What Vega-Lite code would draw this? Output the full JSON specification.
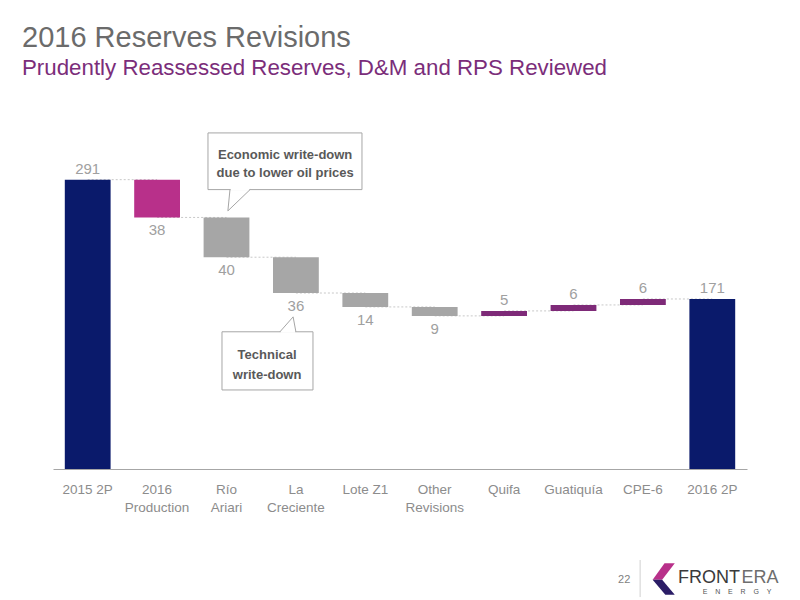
{
  "$schema": "https://vega.github.io/schema/vega-lite/v6.json",
  "width": 694,
  "height": 348,
  "autosize": "none",
  "padding": {"left": 53, "top": 121, "right": 53, "bottom": 131},
  "background": "white",
  "config": {"view": {"stroke": null}},
  "title": {
    "text": "2016 Reserves Revisions",
    "subtitle": "Prudently Reassessed Reserves, D&M and RPS Reviewed",
    "anchor": "start",
    "frame": "group",
    "dx": -31,
    "offset": 42,
    "font": "Liberation Sans",
    "fontSize": 29,
    "fontWeight": "normal",
    "color": "#6b6b6b",
    "subtitleFont": "Liberation Sans",
    "subtitleFontSize": 22.3,
    "subtitleColor": "#7b2d7a",
    "subtitlePadding": 4
  },
  "datasets": {
    "bars": [
      {"cat": "2015 2P", "next": "2016 Production", "start": 0, "end": 291, "label": "291", "type": "total", "pos": "above"},
      {"cat": "2016 Production", "next": "Río Ariari", "start": 291, "end": 253, "label": "38", "type": "production", "pos": "below"},
      {"cat": "Río Ariari", "next": "La Creciente", "start": 253, "end": 213, "label": "40", "type": "decrease", "pos": "below"},
      {"cat": "La Creciente", "next": "Lote Z1", "start": 213, "end": 177, "label": "36", "type": "decrease", "pos": "below"},
      {"cat": "Lote Z1", "next": "Other Revisions", "start": 177, "end": 163, "label": "14", "type": "decrease", "pos": "below"},
      {"cat": "Other Revisions", "next": "Quifa", "start": 163, "end": 154, "label": "9", "type": "decrease", "pos": "below"},
      {"cat": "Quifa", "next": "Guatiquía", "start": 154, "end": 159, "label": "5", "type": "increase", "pos": "above"},
      {"cat": "Guatiquía", "next": "CPE-6", "start": 159, "end": 165, "label": "6", "type": "increase", "pos": "above"},
      {"cat": "CPE-6", "next": "2016 2P", "start": 165, "end": 171, "label": "6", "type": "increase", "pos": "above"},
      {"cat": "2016 2P", "next": null, "start": 0, "end": 171, "label": "171", "type": "total", "pos": "above"}
    ],
    "boxes": [
      {"name": "economic", "x1": 1.733, "x2": 3.952, "y1": 281, "y2": 338},
      {"name": "technical", "x1": 1.935, "x2": 3.246, "y1": 79.5, "y2": 138}
    ],
    "tails": [
      {"name": "economic", "ord": 1, "cx": 2.05, "cy": 281},
      {"name": "economic", "ord": 2, "cx": 2.02, "cy": 259.6},
      {"name": "economic", "ord": 3, "cx": 2.34, "cy": 281},
      {"name": "technical", "ord": 1, "cx": 2.77, "cy": 138},
      {"name": "technical", "ord": 2, "cx": 2.96, "cy": 153},
      {"name": "technical", "ord": 3, "cx": 3.0, "cy": 138}
    ],
    "gaps": [
      {"name": "economic", "xa": 2.06, "xb": 2.33, "cy": 281},
      {"name": "technical", "xa": 2.78, "xb": 2.99, "cy": 138}
    ],
    "notes": [
      {"cx": 2.845, "cy": 316, "text": "Economic write-down"},
      {"cx": 2.845, "cy": 298, "text": "due to lower oil prices"},
      {"cx": 2.585, "cy": 115, "text": "Technical"},
      {"cx": 2.585, "cy": 95, "text": "write-down"}
    ],
    "page": [{"cx": 7.73, "cy": -114.5, "text": "22"}],
    "brandDark": [{"cx": 8.506, "cy": -114.5, "text": "FRONT"}],
    "brandLight": [{"cx": 9.42, "cy": -114.5, "text": "ERA"}],
    "brandSub": [{"cx": 9.357, "cy": -125.7, "text": "E\u00a0\u00a0\u00a0\u00a0N\u00a0\u00a0\u00a0\u00a0E\u00a0\u00a0\u00a0\u00a0R\u00a0\u00a0\u00a0\u00a0G\u00a0\u00a0\u00a0\u00a0Y"}],
    "divider": [{"cx": 7.96, "ya": -91.5, "yb": -128.8}],
    "icon": [{"cx": 8.3, "cy": -110.6}]
  },
  "resolve": {"scale": {"x": "independent"}, "axis": {"x": "independent"}},
  "encoding": {
    "y": {"type": "quantitative", "scale": {"domain": [0, 350], "nice": false, "zero": true}, "axis": null}
  },
  "layer": [
    {
      "layer": [
        {
          "data": {"name": "bars"},
          "mark": {"type": "rule", "color": "#c8c8c8", "strokeDash": [2, 2], "strokeWidth": 1},
          "transform": [{"filter": "datum.next != null"}],
          "encoding": {
            "x": {"field": "cat", "type": "nominal"},
            "x2": {"field": "next"},
            "y": {"field": "end", "type": "quantitative"}
          }
        },
        {
          "data": {"name": "bars"},
          "mark": {"type": "bar"},
          "encoding": {
            "x": {"field": "cat", "type": "nominal"},
            "y": {"field": "start", "type": "quantitative"},
            "y2": {"field": "end"},
            "color": {
              "field": "type",
              "type": "nominal",
              "legend": null,
              "scale": {
                "domain": ["total", "production", "decrease", "increase"],
                "range": ["#0a1a6b", "#b8308a", "#a6a6a6", "#7e2a78"]
              }
            }
          }
        },
        {
          "data": {"name": "bars"},
          "transform": [{"filter": "datum.pos == 'above'"}],
          "mark": {"type": "text", "baseline": "alphabetic", "dy": -6, "font": "Liberation Sans", "fontSize": 15, "color": "#a0a0a0"},
          "encoding": {
            "x": {"field": "cat", "type": "nominal"},
            "y": {"field": "end", "type": "quantitative"},
            "text": {"field": "label"}
          }
        },
        {
          "data": {"name": "bars"},
          "transform": [{"filter": "datum.pos == 'below'"}],
          "mark": {"type": "text", "baseline": "top", "dy": 6, "font": "Liberation Sans", "fontSize": 15, "color": "#a0a0a0"},
          "encoding": {
            "x": {"field": "cat", "type": "nominal"},
            "y": {"field": "end", "type": "quantitative"},
            "text": {"field": "label"}
          }
        }
      ],
      "encoding": {
        "x": {
          "field": "cat",
          "type": "nominal",
          "sort": null,
          "title": null,
          "scale": {"paddingInner": 0.34, "paddingOuter": 0.17},
          "axis": {
            "labelAngle": 0,
            "ticks": false,
            "domainColor": "#a6a6a6",
            "domainWidth": 1,
            "labelPadding": 13,
            "labelFont": "Liberation Sans",
            "labelFontSize": 13.5,
            "labelColor": "#8c8c8c",
            "labelLineHeight": 18,
            "labelBaseline": "top",
            "labelExpr": "test(/ 2P$| Z1$/, datum.label) ? datum.label : split(datum.label, ' ')"
          }
        }
      }
    },
    {
      "layer": [
        {
          "data": {"name": "boxes"},
          "mark": {"type": "rect", "fill": "white", "stroke": "#a6a6a6", "strokeWidth": 1},
          "encoding": {
            "x": {"field": "x1", "type": "quantitative"},
            "x2": {"field": "x2"},
            "y": {"field": "y1", "type": "quantitative"},
            "y2": {"field": "y2"}
          }
        },
        {
          "data": {"name": "gaps"},
          "mark": {"type": "rule", "color": "white", "strokeWidth": 2},
          "encoding": {
            "x": {"field": "xa", "type": "quantitative"},
            "x2": {"field": "xb"},
            "y": {"field": "cy", "type": "quantitative"}
          }
        },
        {
          "data": {"name": "tails"},
          "mark": {"type": "line", "color": "#a6a6a6", "strokeWidth": 1},
          "encoding": {
            "x": {"field": "cx", "type": "quantitative"},
            "y": {"field": "cy", "type": "quantitative"},
            "detail": {"field": "name"},
            "order": {"field": "ord"}
          }
        },
        {
          "data": {"name": "notes"},
          "mark": {"type": "text", "font": "Liberation Sans", "fontSize": 13, "fontWeight": "bold", "color": "#595959", "baseline": "middle"},
          "encoding": {
            "x": {"field": "cx", "type": "quantitative"},
            "y": {"field": "cy", "type": "quantitative"},
            "text": {"field": "text"}
          }
        },
        {
          "data": {"name": "divider"},
          "mark": {"type": "rule", "color": "#d0d0d0", "strokeWidth": 1},
          "encoding": {
            "x": {"field": "cx", "type": "quantitative"},
            "y": {"field": "ya", "type": "quantitative"},
            "y2": {"field": "yb"}
          }
        },
        {
          "data": {"name": "icon"},
          "mark": {"type": "point", "filled": true, "opacity": 1, "size": 1000, "color": "#b8308a", "shape": "M 0.05 -1 L 0.7 -1 L -0.1 0.05 L -0.7 0.05 Z"},
          "encoding": {
            "x": {"field": "cx", "type": "quantitative"},
            "y": {"field": "cy", "type": "quantitative"}
          }
        },
        {
          "data": {"name": "icon"},
          "mark": {"type": "point", "filled": true, "opacity": 1, "size": 1000, "color": "#2b1d66", "shape": "M -0.7 0.05 L -0.1 0.05 L 0.7 1 L 0.1 1 Z"},
          "encoding": {
            "x": {"field": "cx", "type": "quantitative"},
            "y": {"field": "cy", "type": "quantitative"}
          }
        },
        {
          "data": {"name": "page"},
          "mark": {"type": "text", "font": "Liberation Sans", "fontSize": 11, "color": "#7f7f7f", "align": "center", "baseline": "alphabetic"},
          "encoding": {
            "x": {"field": "cx", "type": "quantitative"},
            "y": {"field": "cy", "type": "quantitative"},
            "text": {"field": "text"}
          }
        },
        {
          "data": {"name": "brandDark"},
          "mark": {"type": "text", "font": "Liberation Sans", "fontSize": 18, "color": "#3a3a3a", "align": "left", "baseline": "alphabetic"},
          "encoding": {
            "x": {"field": "cx", "type": "quantitative"},
            "y": {"field": "cy", "type": "quantitative"},
            "text": {"field": "text"}
          }
        },
        {
          "data": {"name": "brandLight"},
          "mark": {"type": "text", "font": "Liberation Sans", "fontSize": 18, "color": "#6e6e6e", "align": "left", "baseline": "alphabetic"},
          "encoding": {
            "x": {"field": "cx", "type": "quantitative"},
            "y": {"field": "cy", "type": "quantitative"},
            "text": {"field": "text"}
          }
        },
        {
          "data": {"name": "brandSub"},
          "mark": {"type": "text", "font": "Liberation Sans", "fontSize": 7, "color": "#555555", "align": "center", "baseline": "alphabetic"},
          "encoding": {
            "x": {"field": "cx", "type": "quantitative"},
            "y": {"field": "cy", "type": "quantitative"},
            "text": {"field": "text"}
          }
        }
      ],
      "encoding": {
        "x": {"type": "quantitative", "scale": {"domain": [-0.5, 9.5], "nice": false, "zero": false}, "axis": null}
      }
    }
  ]
}
